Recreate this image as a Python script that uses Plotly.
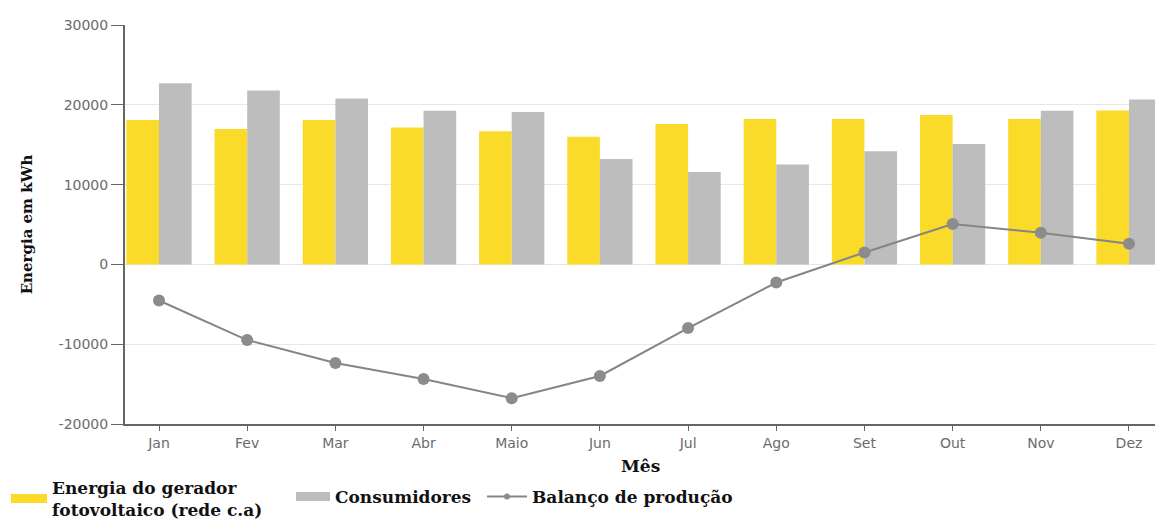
import plotly.graph_objects as go

meses = ["Jan", "Fev", "Mar", "Abr", "Maio", "Jun", "Jul", "Ago", "Set", "Out", "Nov", "Dez"]
energia_gerador = [18090, 16960, 18090, 17150, 16690, 15990, 17590, 18220, 18220, 18730, 18220, 19290]
consumidores = [22710, 21790, 20800, 19240, 19110, 13210, 11580, 12510, 14180, 15090, 19240, 20670]
balanco = [-4520, -9480, -12350, -14350, -16770, -13980, -7980, -2270, 1500, 5060, 3970, 2600]

y_ticks = [-20000, -10000, 0, 10000, 20000, 30000]
y_ticktext = ["-20000", "-10000", "0", "10000", "20000", "30000"]

titulo_x = "Mês"
titulo_y = "Energia em kWh"
nome_gerador = "Energia do gerador<br>fotovoltaico (rede c.a)"
nome_consumo = "Consumidores"
nome_balanco = "Balanço de produção"

cor_amarelo = "#fbdb2a"
cor_cinza = "#bdbdbd"
cor_linha = "#858585"

fig = go.Figure()
fig.add_trace(go.Bar(x=meses, y=energia_gerador, name=nome_gerador,
                     marker=dict(color=cor_amarelo, line=dict(width=0)),
                     showlegend=False))
fig.add_trace(go.Bar(x=meses, y=consumidores, name=nome_consumo,
                     marker=dict(color=cor_cinza, line=dict(width=0)),
                     showlegend=False))
fig.add_trace(go.Scatter(x=meses, y=balanco, name=nome_balanco, mode="lines+markers",
                         line=dict(color=cor_linha, width=2),
                         marker=dict(color="#8c8c8c", size=12),
                         showlegend=False))
# legend entries
fig.add_trace(go.Scatter(x=[None], y=[None], mode="lines", name=nome_gerador,
                         line=dict(color=cor_amarelo, width=9), legend="legend"))
fig.add_trace(go.Scatter(x=[None], y=[None], mode="lines", name=nome_consumo,
                         line=dict(color=cor_cinza, width=9), legend="legend2"))
fig.add_trace(go.Scatter(x=[None], y=[None], mode="lines+markers", name=nome_balanco,
                         line=dict(color=cor_linha, width=2),
                         marker=dict(color="#8c8c8c", size=6), legend="legend3"))

tick_font = dict(family="DejaVu Sans", size=14, color="#6b6b6b")
legend_font = dict(family="DejaVu Serif", size=17, color="#111111", weight="bold")


def legenda(x_px, y_px, iw=34):
    return dict(orientation="h", xref="container", yref="container",
                x=x_px / 1155, y=1 - y_px / 521, xanchor="left", yanchor="middle",
                font=legend_font, itemwidth=iw, bgcolor="rgba(0,0,0,0)")


fig.update_layout(
    width=1155, height=521,
    margin=dict(l=125, r=0, t=25, b=97, autoexpand=False),
    paper_bgcolor="white", plot_bgcolor="white",
    barmode="group", bargap=0.26, bargroupgap=0,
    showlegend=True,
    legend=legenda(6, 499, 36),
    legend2=legenda(291, 497),
    legend3=legenda(482, 497, 40),
    xaxis=dict(type="category", range=[-0.3856, 11.295],
               showline=True, linecolor="#666666", linewidth=2,
               ticks="outside", ticklen=5, tickcolor="#666666", tickwidth=1,
               tickfont=tick_font, showgrid=False),
    yaxis=dict(range=[-20000, 30000], tickvals=y_ticks, ticktext=y_ticktext,
               showline=True, linecolor="#666666", linewidth=2,
               ticks="outside", ticklen=12, tickcolor="#666666", tickwidth=1,
               tickfont=tick_font, showgrid=True, gridcolor="#e6e6e6", gridwidth=1,
               zeroline=False,
               title=dict(text=titulo_y, font=dict(family="DejaVu Serif", size=15,
                                                   color="#111111", weight="bold"),
                          standoff=22)),
    annotations=[dict(text=titulo_x, xref="paper", yref="paper", x=0.5,
                      y=-(466 - 424) / 399, xanchor="center", yanchor="middle",
                      showarrow=False,
                      font=dict(family="DejaVu Serif", size=17, color="#111111",
                                weight="bold"))],
)

fig.write_html("out.html")
